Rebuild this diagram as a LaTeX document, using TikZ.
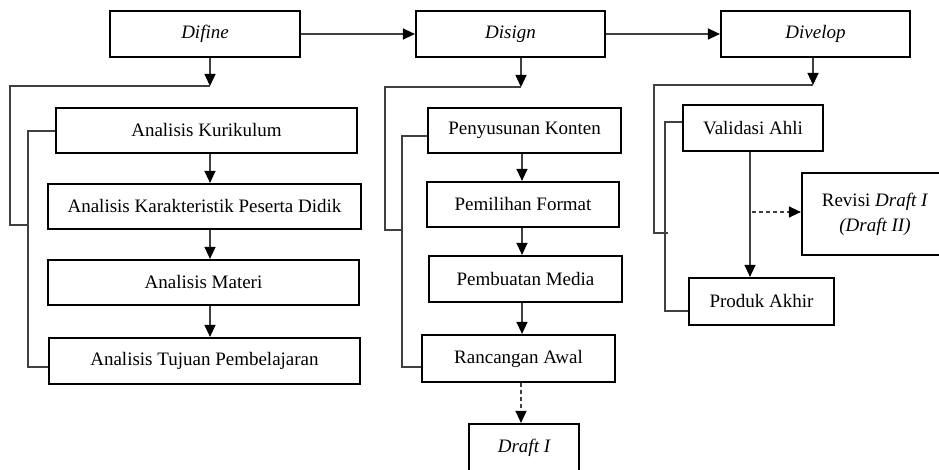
\documentclass[tikz,border=0pt]{standalone}
\usepackage{fontspec}
\setmainfont{Liberation Serif}
\usetikzlibrary{arrows.meta}
\begin{document}
\begin{tikzpicture}[x=1pt,y=-1pt,
  box/.style={draw=black, line width=2.2pt, rectangle, inner sep=0pt, align=center,
    font=\fontsize{19}{25}\selectfont},
  conn/.style={draw=black!75, line width=1.3pt},
  arr/.style={conn, -{Triangle[width=11pt,length=12pt,fill=black,color=black]}},
  darr/.style={arr, dash pattern=on 4pt off 3pt}]
\useasboundingbox (0,0) rectangle (939,470);
\clip (0,0) rectangle (939,470);
% top row
\node[box, minimum width=190, minimum height=46] (difine) at (205,34) {\itshape Difine};
\node[box, minimum width=189, minimum height=46] (disign) at (510.5,34) {\itshape Disign};
\node[box, minimum width=189, minimum height=46] (divelop) at (815.5,34) {\itshape Divelop};
\draw[arr] (difine) -- (disign);
\draw[arr] (disign) -- (divelop);
% Define column
\node[box, minimum width=301, minimum height=45] (kur) at (206.5,130.5) {Analisis Kurikulum};
\node[box, minimum width=313, minimum height=45] (kar) at (204.5,206.5) {Analisis Karakteristik Peserta Didik};
\node[box, minimum width=311, minimum height=45] (mat) at (203.5,282.5) {Analisis Materi};
\node[box, minimum width=311, minimum height=46] (tuj) at (204.5,361) {Analisis Tujuan Pembelajaran};
\coordinate (d1) at (210,86);
\coordinate (dA) at (10,86);
\coordinate (dB) at (10,225);
\coordinate (dC) at (28,225);
\coordinate (dI1) at (28,131);
\coordinate (dI2) at (28,367);
\draw[arr] (difine.south -| d1) -- (d1);
\draw[conn] (d1) -- (dA) -- (dB) -- (dC);
\draw[conn] (kur.west |- dI1) -- (dI1) -- (dI2) -- (tuj.west |- dI2);
\draw[arr] (kur.south -| d1) -- (kar.north -| d1);
\draw[arr] (kar.south -| d1) -- (mat.north -| d1);
\draw[arr] (mat.south -| d1) -- (tuj.north -| d1);
% Design column
\node[box, minimum width=193, minimum height=45] (pen) at (524.5,130.5) {Penyusunan Konten};
\node[box, minimum width=192, minimum height=45] (pem) at (523,204.5) {Pemilihan Format};
\node[box, minimum width=193, minimum height=46] (med) at (525.5,279) {Pembuatan Media};
\node[box, minimum width=193, minimum height=47] (ran) at (518.5,358.5) {Rancangan Awal};
\node[box, minimum width=110, minimum height=48] (draft) at (524,448) {\itshape Draft I};
\coordinate (s1) at (521,87);
\coordinate (sA) at (385,87);
\coordinate (sB) at (385,230);
\coordinate (sC) at (402,230);
\coordinate (sI1) at (402,136);
\coordinate (sI2) at (402,367);
\coordinate (sx) at (522,0);
\draw[arr] (disign.south -| s1) -- (s1);
\draw[conn] (s1) -- (sA) -- (sB) -- (sC);
\draw[conn] (pen.west |- sI1) -- (sI1) -- (sI2) -- (ran.west |- sI2);
\draw[arr] (pen.south -| sx) -- (pem.north -| sx);
\draw[arr] (pem.south -| sx) -- (med.north -| sx);
\draw[arr] (med.south -| sx) -- (ran.north -| sx);
\draw[darr] (ran.south -| s1) -- (draft.north -| s1);
% Develop column
\node[box, minimum width=140, minimum height=46] (val) at (753,128) {Validasi Ahli};
\node[box, minimum width=146, minimum height=82] (rev) at (875,214) {Revisi \textit{Draft I}\\\textit{(Draft II)}};
\node[box, minimum width=145, minimum height=47] (prod) at (761.5,301.5) {Produk Akhir};
\coordinate (v1) at (813,85);
\coordinate (vA) at (654,85);
\coordinate (vB) at (654,233);
\coordinate (vC) at (668,233);
\coordinate (vI1) at (665,122);
\coordinate (vI2) at (665,311);
\coordinate (vx) at (750,0);
\coordinate (vd) at (752,212);
\draw[arr] (divelop.south -| v1) -- (v1);
\draw[conn] (v1) -- (vA) -- (vB) -- (vC);
\draw[conn] (val.west |- vI1) -- (vI1) -- (vI2) -- (prod.west |- vI2);
\draw[arr] (val.south -| vx) -- (prod.north -| vx);
\draw[darr] (vd) -- (rev.west |- vd);
\end{tikzpicture}
\end{document}
